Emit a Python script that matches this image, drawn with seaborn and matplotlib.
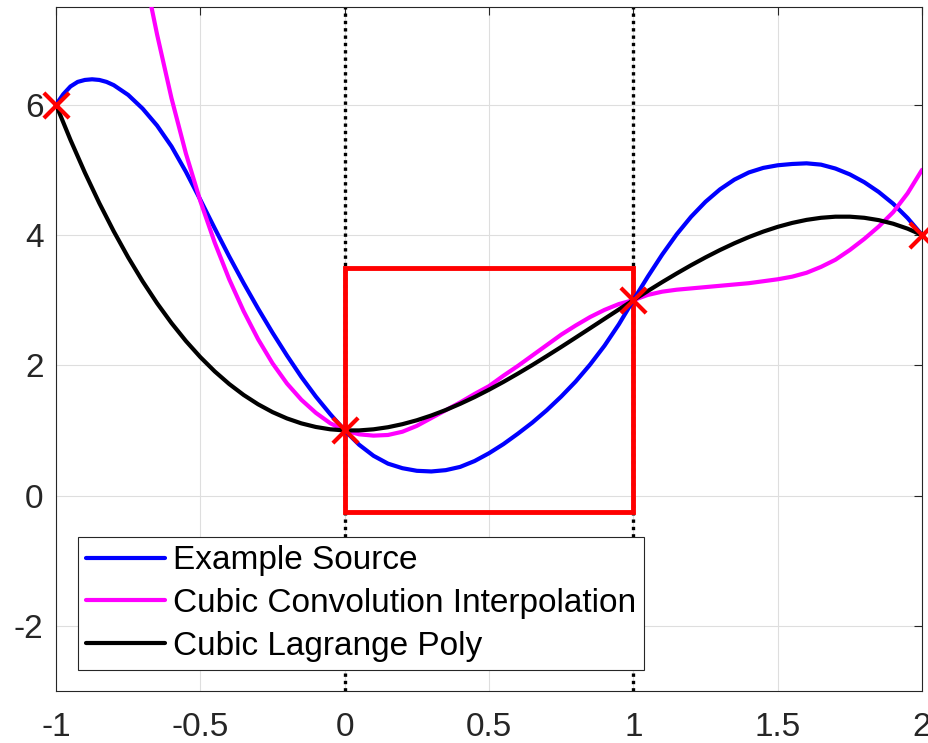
import numpy as np
import pandas as pd
import matplotlib
matplotlib.use("Agg")
import matplotlib.pyplot as plt
from matplotlib.patches import Rectangle
import seaborn as sns

# example source, sampled more finely around its left-hand peak
source_x = [
    -1.000, -0.975, -0.950, -0.925, -0.900, -0.875, -0.850, -0.825, -0.800,
    -0.75, -0.70, -0.65, -0.60, -0.55, -0.50, -0.45, -0.40, -0.35, -0.30,
    -0.25, -0.20, -0.15, -0.10, -0.05, 0.00, 0.05, 0.10, 0.15, 0.20, 0.25,
    0.30, 0.35, 0.40, 0.45, 0.50, 0.55, 0.60, 0.65, 0.70, 0.75, 0.80, 0.85,
    0.90, 0.95, 1.00, 1.05, 1.10, 1.15, 1.20, 1.25, 1.30, 1.35, 1.40, 1.45,
    1.50, 1.55, 1.60, 1.65, 1.70, 1.75, 1.80, 1.85, 1.90, 1.95, 2.00,
]
example_source = [
    6.00, 6.16, 6.28, 6.35, 6.38, 6.39, 6.38, 6.35, 6.30,
    6.15, 5.94, 5.68, 5.36, 4.97, 4.54, 4.10, 3.67, 3.26, 2.87,
    2.50, 2.15, 1.82, 1.52, 1.25, 1.00, 0.78, 0.61, 0.49, 0.42, 0.38,
    0.37, 0.39, 0.44, 0.53, 0.65, 0.79, 0.95, 1.12, 1.31, 1.52, 1.75, 2.01,
    2.30, 2.63, 3.00, 3.36, 3.70, 4.01, 4.28, 4.51, 4.70, 4.85, 4.96, 5.03,
    5.07, 5.09, 5.10, 5.08, 5.02, 4.93, 4.81, 4.66, 4.48, 4.26, 4.00,
]

# the two interpolants share a regular grid
grid_x = np.round(np.linspace(-1.0, 2.0, 61), 2)

cubic_convolution = [
    17.20, 15.40, 13.70, 12.13, 10.68, 9.36, 8.16, 7.08, 6.10, 5.25,
    4.52, 3.88, 3.32, 2.83, 2.40, 2.03, 1.72, 1.47, 1.27, 1.11,
    1.00, 0.94, 0.92, 0.93, 0.98, 1.07, 1.19, 1.31, 1.43, 1.56,
    1.68, 1.84, 1.99, 2.15, 2.31, 2.47, 2.61, 2.74, 2.85, 2.94,
    3.00, 3.08, 3.13, 3.16, 3.18, 3.20, 3.22, 3.24, 3.26, 3.29,
    3.32, 3.36, 3.42, 3.51, 3.62, 3.77, 3.94, 4.13, 4.35, 4.64,
    5.00,
]

cubic_lagrange = [
    6.000, 5.460, 4.957, 4.489, 4.056, 3.656, 3.289, 2.953, 2.648, 2.372,
    2.125, 1.905, 1.712, 1.544, 1.401, 1.281, 1.184, 1.108, 1.053, 1.017,
    1.000, 1.000, 1.017, 1.049, 1.096, 1.156, 1.229, 1.313, 1.408, 1.512,
    1.625, 1.745, 1.872, 2.004, 2.141, 2.281, 2.424, 2.568, 2.713, 2.857,
    3.000, 3.140, 3.277, 3.409, 3.536, 3.656, 3.769, 3.873, 3.968, 4.052,
    4.125, 4.185, 4.232, 4.264, 4.281, 4.281, 4.264, 4.228, 4.173, 4.097,
    4.000,
]

# integer sample points
sample_x = [-1, 0, 1, 2]
sample_y = [6, 1, 3, 4]

# interpolation window
window_x = [0, 1]
window_y = [-0.25, 3.5]

series_names = ["Example Source", "Cubic Convolution Interpolation", "Cubic Lagrange Poly"]
series_colors = ["#0000ff", "#ff00ff", "#000000"]

x_ticks = [-1, -0.5, 0, 0.5, 1, 1.5, 2]
y_ticks = [-2, 0, 2, 4, 6]

sns.set_theme(style="white")
plt.rcParams["font.family"] = ["Liberation Sans", "DejaVu Sans"]
plt.rcParams["axes.unicode_minus"] = False

dark = "#262626"
fig = plt.figure(figsize=(9.29, 7.43), dpi=100)
ax = fig.add_axes([0.0603, 0.0700, 0.9322, 0.9206])

# window edges, dotted
for xv in window_x:
    ax.axvline(xv, color="black", ls=(0, (1, 1.2)), lw=2.4, zorder=2)

ax.add_patch(Rectangle((window_x[0], window_y[0]), window_x[1] - window_x[0],
                       window_y[1] - window_y[0], fill=False, edgecolor="#ff0000",
                       lw=3.5, zorder=3))

df = pd.concat([
    pd.DataFrame({"x": source_x, "y": example_source, "series": series_names[0]}),
    pd.DataFrame({"x": grid_x, "y": cubic_convolution, "series": series_names[1]}),
    pd.DataFrame({"x": grid_x, "y": cubic_lagrange, "series": series_names[2]}),
], ignore_index=True)

for name, col in zip(series_names, series_colors):
    sub = df[df["series"] == name]
    sns.lineplot(data=sub, x="x", y="y", color=col, lw=3, label=name,
                 ax=ax, sort=False, estimator=None, zorder=4,
                 solid_joinstyle="round", solid_capstyle="round")

sns.scatterplot(x=sample_x, y=sample_y, marker="x", s=330, color="#ff0000",
                linewidth=3, ax=ax, zorder=6, clip_on=False, legend=False)

ax.set_xlim(-1, 2)
ax.set_ylim(-3, 7.5)
ax.set_xticks(x_ticks)
ax.set_xticklabels([f"{t:g}" for t in x_ticks])
ax.set_yticks(y_ticks)
ax.set_yticklabels([f"{t:g}" for t in y_ticks])
ax.set_xlabel("")
ax.set_ylabel("")
ax.grid(True, color="#dedede", lw=0.8)
ax.set_axisbelow(True)
ax.tick_params(direction="in", length=6, width=0.8, top=True, right=True,
               labelsize=24, colors=dark, labelcolor=dark)
ax.tick_params(axis="x", pad=15)
ax.tick_params(axis="y", pad=9)
for sp in ax.spines.values():
    sp.set_color(dark)
    sp.set_linewidth(0.8)

leg = ax.legend(loc="lower left", bbox_to_anchor=(0.0254, 0.0307), borderaxespad=0,
                fontsize=24, frameon=True, fancybox=False, edgecolor=dark,
                framealpha=1, handlelength=2.35, handletextpad=0.25,
                borderpad=0.25, labelspacing=0.35)
leg.get_frame().set_linewidth(0.8)
for t in leg.get_texts():
    t.set_color("black")

fig.savefig("out.png", dpi=100)
